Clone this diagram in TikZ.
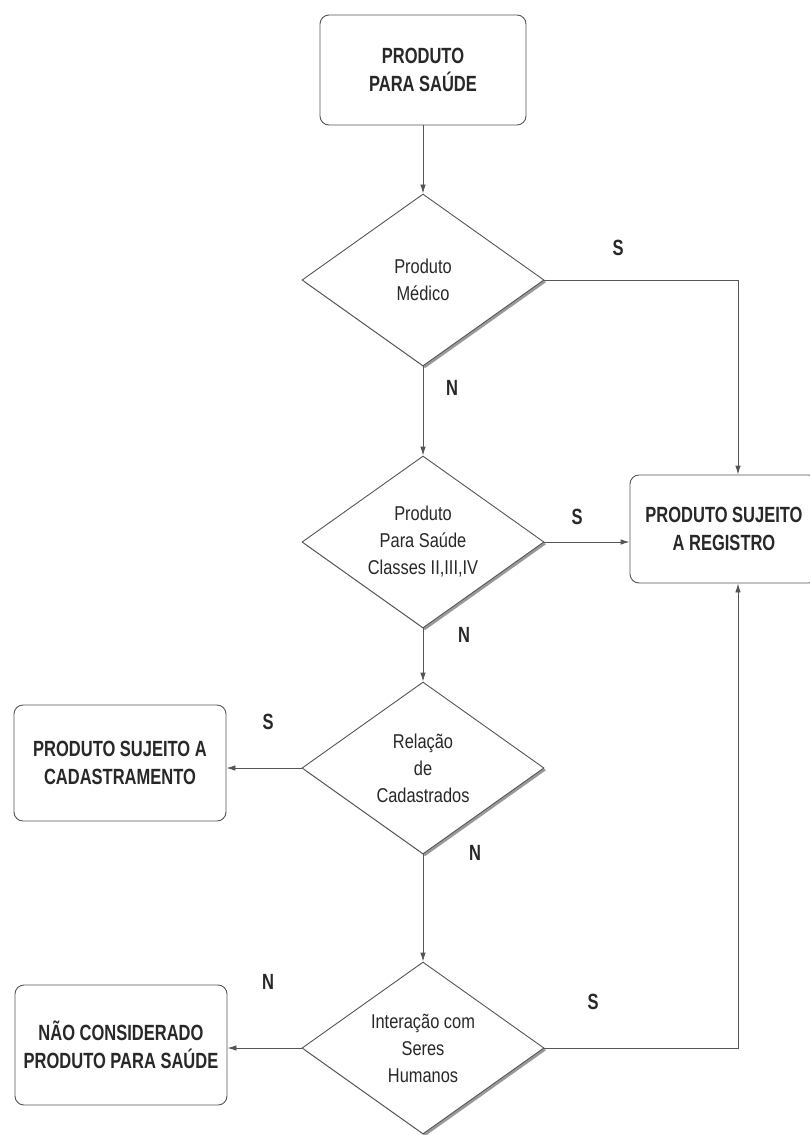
\documentclass[tikz,border=0pt]{standalone}
\usepackage{fontspec}
\setmainfont{Liberation Sans}
\newfontfamily\boxfont{Liberation Sans Bold}[FakeStretch=0.75]
\newfontfamily\decfont{Liberation Sans}[FakeStretch=0.82]
\usetikzlibrary{shapes.geometric,arrows.meta,shadows}
\definecolor{linegray}{RGB}{85,85,85}
\definecolor{inkgray}{RGB}{40,40,40}
\tikzset{
  box/.style={draw=linegray, line width=0.9pt, rounded corners=9pt, minimum width=212pt, minimum height=116pt, align=center, text=inkgray, font={\boxfont\fontsize{22}{28}\selectfont}},
  decision/.style={diamond, draw=linegray, line width=0.9pt, fill=white, shape aspect=1.4, inner sep=0pt, minimum width=242pt, minimum height=172pt, align=center, text=inkgray, font={\decfont\fontsize{20}{27}\selectfont}, drop shadow={shadow xshift=2.2pt, shadow yshift=-2.2pt, fill=black!40, opacity=1}},
  flow/.style={draw=linegray, line width=0.9pt, -{Latex[length=9pt,width=5.5pt]}},
  answer/.style={text=inkgray, font={\boxfont\fontsize{22}{26}\selectfont}}
}

\begin{document}
\begin{tikzpicture}[x=1pt,y=-1pt]
  \useasboundingbox[fill=white] (0,0) rectangle (809,1135);
  % Shapes
  \node[box, minimum width=206pt, minimum height=110pt] (saude) at (423,70) {PRODUTO\\PARA SAÚDE};
  \node[decision] (medico) at (423,280) {Produto\\Médico};
  \node[decision] (classes) at (423,542) {Produto\\Para Saúde\\Classes II,III,IV};
  \node[decision] (cadastrados) at (423,768) {Relação\\de\\Cadastrados};
  \node[decision] (humanos) at (423,1048) {Interação com\\Seres\\Humanos};
  \node[box, minimum width=188pt, minimum height=108pt] (registro) at (724,529) {PRODUTO SUJEITO\\A REGISTRO};
  \node[box] (cadastro) at (120,763) {PRODUTO SUJEITO A\\CADASTRAMENTO};
  \node[box, minimum height=120pt] (naosaude) at (121,1045) {NÃO CONSIDERADO\\PRODUTO PARA SAÚDE};
  \coordinate (regtop) at ([xshift=14pt]registro.north);
  \coordinate (regbot) at ([xshift=14pt]registro.south);

  % Arrows
  \draw[flow] (saude) -- (medico);
  \draw[flow] (medico) -- (classes);
  \draw[flow] (classes) -- (cadastrados);
  \draw[flow] (cadastrados) -- (humanos);
  \draw[flow] (medico.east) -| (regtop);
  \draw[flow] (classes.east) -- (classes.east -| registro.west);
  \draw[flow] (cadastrados.west) -- (cadastrados.west -| cadastro.east);
  \draw[flow] (humanos.west) -- (humanos.west -| naosaude.east);
  \draw[flow] (humanos.east) -| (regbot);

  % Labels
  \node[answer] (sim1) at (618,248) {S};
  \node[answer] (nao1) at (452,388) {N};
  \node[answer] (sim2) at (577,517) {S};
  \node[answer] (nao2) at (464,635) {N};
  \node[answer] (sim3) at (268,722) {S};
  \node[answer] (nao3) at (475,853) {N};
  \node[answer] (nao4) at (268,982) {N};
  \node[answer] (sim4) at (593,1002) {S};
\end{tikzpicture}
\end{document}
